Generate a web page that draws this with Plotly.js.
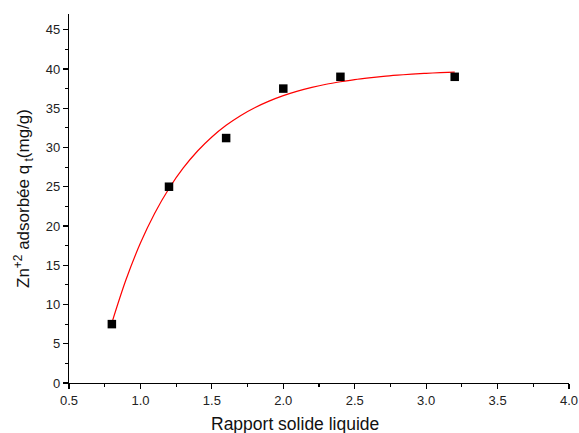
<!DOCTYPE html>
<html>
<head>
<meta charset="utf-8">
<script src="https://cdn.plot.ly/plotly-3.0.1.min.js"></script>
<style>html,body{margin:0;padding:0;background:#fff;}#chart{width:579px;height:433px;}</style>
</head>
<body>
<div id="chart"></div>
<script>
const ratio = [0.8, 1.2, 1.6, 2.0, 2.4, 3.2];
const qt = [7.5, 25.0, 31.2, 37.5, 39.0, 39.0];

const fitX = [0.8, 0.9, 1.0, 1.1, 1.2, 1.3, 1.4, 1.5, 1.6, 1.7, 1.8, 1.9, 2.0, 2.1, 2.2, 2.3, 2.4, 2.5, 2.6, 2.7, 2.8, 2.9, 3.0, 3.1, 3.2];
const fitY = [7.66, 13.21, 17.82, 21.62, 24.78, 27.39, 29.55, 31.34, 32.82, 34.05, 35.06, 35.90, 36.60, 37.18, 37.65, 38.05, 38.37, 38.65, 38.87, 39.06, 39.21, 39.34, 39.44, 39.53, 39.60];

const xTitle = 'Rapport solide liquide';
const yTitle = 'Zn<sup>+2</sup> adsorbée q<sub> t</sub>(mg/g)';

const font = 'Liberation Sans, Arial, sans-serif';

const traces = [
  {x: fitX, y: fitY, mode: 'lines', line: {color: '#ff0000', width: 1.2, shape: 'spline'}, hoverinfo: 'skip', showlegend: false},
  {x: ratio, y: qt, mode: 'markers', marker: {symbol: 'square', size: 8.5, color: '#000'}, showlegend: false}
];

const axisCommon = {
  showgrid: false, zeroline: false, showline: true, linecolor: '#000', linewidth: 1.2,
  ticks: 'outside', ticklen: 5, tickwidth: 1.2, tickcolor: '#000',
  tickfont: {family: font, size: 13, color: '#222'}
};

const layout = {
  width: 579, height: 433,
  margin: {l: 69, r: 10, t: 14, b: 50},
  paper_bgcolor: '#fff', plot_bgcolor: '#fff',
  xaxis: Object.assign({}, axisCommon, {
    range: [0.5, 4.0], dtick: 0.5, tick0: 0.5, tickformat: '.1f',
    minor: {dtick: 0.25, ticks: 'outside', ticklen: 3, tickwidth: 1.2, tickcolor: '#000'}
  }),
  yaxis: Object.assign({}, axisCommon, {
    range: [0, 47], dtick: 5, tick0: 0,
    minor: {dtick: 2.5, ticks: 'outside', ticklen: 3, tickwidth: 1.2, tickcolor: '#000'}
  }),
  annotations: [
    {text: xTitle, xref: 'paper', yref: 'paper', x: 0.452, y: -0.111, xanchor: 'center', yanchor: 'middle', showarrow: false, font: {family: font, size: 17.5, color: '#111'}},
    {text: yTitle, xref: 'paper', yref: 'paper', x: -0.091, y: 0.5, xanchor: 'center', yanchor: 'middle', textangle: -90, showarrow: false, font: {family: font, size: 17, color: '#111'}}
  ]
};

Plotly.newPlot('chart', traces, layout, {displayModeBar: false, staticPlot: true});
</script>
</body>
</html>
